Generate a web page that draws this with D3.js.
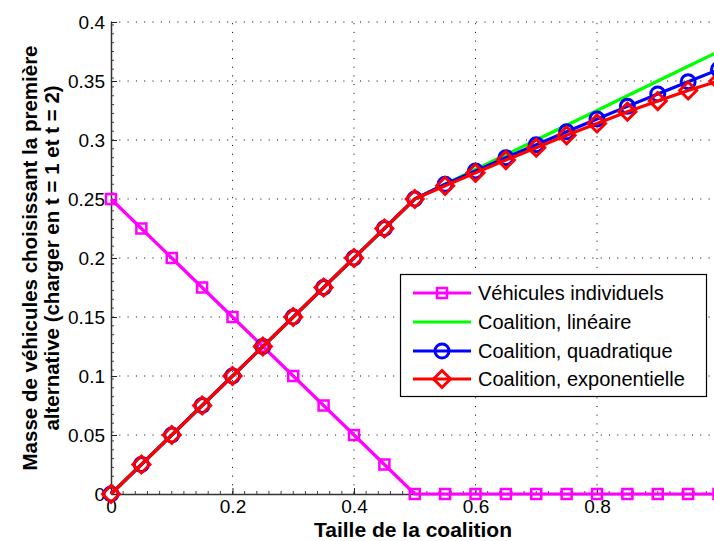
<!DOCTYPE html>
<html><head><meta charset="utf-8">
<script src="https://cdn.jsdelivr.net/npm/d3@7"></script>
<style>body{margin:0;background:#fff;overflow:hidden}svg{display:block;font-family:"Liberation Sans",Arial,sans-serif}</style>
</head><body>
<svg id="c" width="714" height="541"></svg>
<script>
const xs = [0,0.05,0.1,0.15,0.2,0.25,0.3,0.35,0.4,0.45,0.5,0.55,0.6,0.65,0.7,0.75,0.8,0.85,0.9,0.95,1.0];
const individuels = [0.25,0.225,0.2,0.175,0.15,0.125,0.1,0.075,0.05,0.025,0,0,0,0,0,0,0,0,0,0,0];
const lineaire = [0,0.025,0.05,0.075,0.1,0.125,0.15,0.175,0.2,0.225,0.25,0.2625,0.275,0.2875,0.3,0.3125,0.325,0.3375,0.35,0.3625,0.375];
const quadratique = [0,0.025,0.05,0.075,0.1,0.125,0.15,0.175,0.2,0.225,0.25,0.2625,0.2738,0.285,0.296,0.307,0.3178,0.3285,0.339,0.3494,0.3597];
const exponentielle = [0,0.025,0.05,0.075,0.1,0.125,0.15,0.175,0.2,0.225,0.25,0.2612,0.2722,0.283,0.2935,0.304,0.314,0.324,0.333,0.342,0.35];
const xTicks = [0,0.2,0.4,0.6,0.8];
const yTicks = [0,0.05,0.1,0.15,0.2,0.25,0.3,0.35,0.4];
const legendLabels = ["Véhicules individuels","Coalition, linéaire","Coalition, quadratique","Coalition, exponentielle"];
const xLabel = "Taille de la coalition";
const yLabel = ["Masse de véhicules choisissant la première","alternative (charger en t = 1 et t = 2)"];

const svg = d3.select("#c");
const x = d3.scaleLinear().domain([0,1]).range([111,718.5]);
const y = d3.scaleLinear().domain([0,0.4]).range([494,22]);

// grid
const g = svg.append("g");
g.selectAll(".gx").data(xTicks.filter(d=>d>0)).join("line")
 .attr("x1",d=>x(d)).attr("x2",d=>x(d)).attr("y1",y(0)).attr("y2",y(0.4))
 .attr("stroke","#000").attr("stroke-width",1).attr("stroke-dasharray","1,7.7");
g.selectAll(".gy").data(yTicks.filter(d=>d>0)).join("line")
 .attr("x1",x(0)).attr("x2",714).attr("y1",d=>y(d)).attr("y2",d=>y(d))
 .attr("stroke","#000").attr("stroke-width",1).attr("stroke-dasharray","1,7.3");

// axes
const xAxis = d3.axisBottom(x).tickValues(xTicks).tickFormat(d3.format("")).tickSizeInner(-6).tickSizeOuter(0).tickPadding(6);
const yAxis = d3.axisLeft(y).tickValues(yTicks).tickFormat(d=>d===0?"0":String(d)).tickSizeInner(-6).tickSizeOuter(0).tickPadding(6);
const minorX = d3.range(0,1.001,0.02);
const minorY = d3.range(0,0.4001,0.0075);
g.selectAll(".mx").data(minorX).join("line").attr("x1",d=>x(d)).attr("x2",d=>x(d)).attr("y1",y(0)).attr("y2",y(0)-3).attr("stroke","#444");
g.selectAll(".my").data(minorY).join("line").attr("y1",d=>y(d)).attr("y2",d=>y(d)).attr("x1",x(0)).attr("x2",x(0)+3).attr("stroke","#444");
const ax = svg.append("g").attr("transform",`translate(0,${y(0)})`).call(xAxis);
const ay = svg.append("g").attr("transform",`translate(${x(0)},0)`).call(yAxis);
[ax,ay].forEach(a=>{
  a.attr("font-size",19).attr("font-family","'Liberation Sans', Arial, sans-serif");
  a.select(".domain").attr("stroke","#333").attr("stroke-width",1.5);
  a.selectAll(".tick line").attr("stroke","#222");
  a.selectAll("text").attr("font-size",19).attr("fill","#000");
});

// series
const line = d3.line().x((d,i)=>x(xs[i])).y(d=>y(d));
const series = [
 {v:individuels,c:"#ff00ff",m:"square"},
 {v:lineaire,c:"#00ff00",m:null},
 {v:quadratique,c:"#0000ff",m:"circle"},
 {v:exponentielle,c:"#ff0000",m:"diamond"}
];
function marker(sel,m,c,cx,cy){
  if(m==="square") sel.append("rect").attr("x",cx-5).attr("y",cy-5).attr("width",10).attr("height",10).attr("fill","none").attr("stroke",c).attr("stroke-width",2.5);
  else if(m==="circle") sel.append("circle").attr("cx",cx).attr("cy",cy).attr("r",7).attr("fill","none").attr("stroke",c).attr("stroke-width",3);
  else if(m==="diamond") sel.append("path").attr("d",`M${cx},${cy-8.5}L${cx+8.5},${cy}L${cx},${cy+8.5}L${cx-8.5},${cy}Z`).attr("fill","none").attr("stroke",c).attr("stroke-width",3);
}
series.forEach(s=>{
  const gs = svg.append("g");
  gs.append("path").datum(s.v).attr("d",line).attr("fill","none").attr("stroke",s.c).attr("stroke-width",3.2).attr("stroke-linejoin","round");
  if(s.m) s.v.forEach((d,i)=>marker(gs,s.m,s.c,x(xs[i]),y(d)));
});

// legend
const lg = svg.append("g");
lg.append("rect").attr("x",400.5).attr("y",274.5).attr("width",306).attr("height",122).attr("fill","#fff").attr("stroke","#000").attr("stroke-width",1.2);
const ly = [293,322,351,379];
series.forEach((s,i)=>{
  lg.append("line").attr("x1",413).attr("x2",471).attr("y1",ly[i]).attr("y2",ly[i]).attr("stroke",s.c).attr("stroke-width",3);
  if(s.m) marker(lg,s.m,s.c,442,ly[i]);
  lg.append("text").attr("x",478).attr("y",ly[i]+7).attr("font-size",20).text(legendLabels[i]);
});

// labels
svg.append("text").attr("x",413).attr("y",536.5).attr("text-anchor","middle").attr("font-size",21).attr("font-weight","bold").text(xLabel);
yLabel.forEach((t,i)=>{
  svg.append("text").attr("transform",`translate(${37+i*22},258) rotate(-90)`).attr("text-anchor","middle").attr("font-size",20.5).attr("font-weight","bold").text(t);
});
</script>
</body></html>
